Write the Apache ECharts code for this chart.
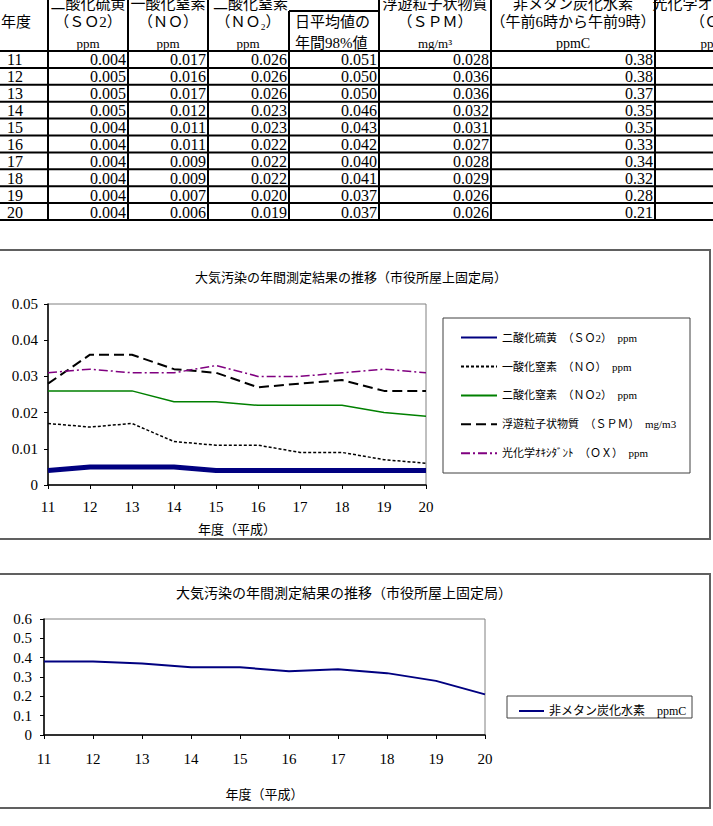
<!DOCTYPE html>
<html><head><meta charset="utf-8">
<script src="https://cdn.jsdelivr.net/npm/echarts@6/dist/echarts.min.js"></script>
<style>html,body{margin:0;padding:0;background:#fff;overflow:hidden}#c{width:713px;height:826px}</style>
</head><body><div id="c"></div>
<script>
// ---- data ----
const years = ['11','12','13','14','15','16','17','18','19','20'];
const so2   = [0.004,0.005,0.005,0.005,0.004,0.004,0.004,0.004,0.004,0.004];
const no    = [0.017,0.016,0.017,0.012,0.011,0.011,0.009,0.009,0.007,0.006];
const no2   = [0.026,0.026,0.026,0.023,0.023,0.022,0.022,0.022,0.020,0.019];
const no2d98= [0.051,0.050,0.050,0.046,0.043,0.042,0.040,0.041,0.037,0.037];
const spm   = [0.028,0.036,0.036,0.032,0.031,0.027,0.028,0.029,0.026,0.026];
const nmhc  = [0.38,0.38,0.37,0.35,0.35,0.33,0.34,0.32,0.28,0.21];
const ox    = [0.031,0.032,0.031,0.031,0.033,0.030,0.030,0.031,0.032,0.031];
const names1 = ['二酸化硫黄　（ＳＯ2）　ppm','一酸化窒素　（ＮＯ）　ppm','二酸化窒素　（ＮＯ2）　ppm','浮遊粒子状物質　（ＳＰＭ）　mg/m3','光化学ｵｷｼﾀﾞﾝﾄ　（ＯＸ）　ppm'];
const name2 = '非メタン炭化水素　ppmC';
const title1 = '大気汚染の年間測定結果の推移（市役所屋上固定局）';
const xName = '年度（平成）';

// ---- drawing ----
const F = "'Liberation Serif','Noto Sans CJK JP',serif";
const chart = echarts.init(document.getElementById('c'), null, {renderer:'svg'});
const g = [];
function txt(x,y,s,align,size){
  g.push({type:'text', x:x, y:y, silent:true, z:10,
    style:{text:s, font:(size||14)+'px '+F, fontSize:size||14, fontFamily:F, fill:'#000',
      align:align||'left', verticalAlign:'middle', textAlign:align||'left', textVerticalAlign:'middle'}});
}
function ln(x1,y1,x2,y2,w,c){
  g.push({type:'line', silent:true, z:9, shape:{x1:x1,y1:y1,x2:x2,y2:y2}, style:{stroke:c||'#000', lineWidth:w||2}});
}
// table
const rowTop = 51, rowH = 16.9;
for (let i=0;i<=years.length;i++) ln(0,rowTop+i*rowH,713,rowTop+i*rowH,2);
ln(289,11,379,11,2);
[48,128,208,379,491,655].forEach(x=>ln(x,0,x,rowTop+years.length*rowH,2));
ln(289,11,289,rowTop+years.length*rowH,2);
// header
txt(1,22,'年度','left',15);
txt(88,4,'二酸化硫黄','center',15); txt(88,22,'（ＳＯ2）','center',15); txt(88,43,'ppm','center',13);
txt(168,4,'一酸化窒素','center',15); txt(168,22,'（ＮＯ）','center',15); txt(168,43,'ppm','center',13);
txt(213,4,'二酸化窒素','left',15); txt(248,22,'（ＮＯ₂）','center',15); txt(248,43,'ppm','center',13);
txt(295,22,'日平均値の','left',15); txt(295,43,'年間98%値','left',15);
txt(435,4,'浮遊粒子状物質','center',15); txt(435,22,'（ＳＰＭ）','center',15); txt(435,43,'mg/m³','center',13);
txt(573,4,'非メタン炭化水素','center',15); txt(573,22,'（午前6時から午前9時）','center',15); txt(573,43,'ppmC','center',14);
txt(720,4,'光化学オキシダント','center',15); txt(720,22,'（ＯＸ）','center',15); txt(712,43,'ppm','center',13);
const cols = [[so2,126,3],[no,206,3],[no2,287,3],[no2d98,377,3],[spm,489,3],[nmhc,653,2]];
years.forEach((y,i)=>{
  const cy = rowTop + i*rowH + rowH/2 + 0.5;
  txt(7,cy,y,'left',16);
  cols.forEach(c=>txt(c[1],cy,c[0][i].toFixed(c[2]),'right',16));
});
// boxes
g.push({type:'rect', silent:true, z:0, shape:{x:-2,y:250,width:712,height:289}, style:{fill:'none', stroke:'#606060', lineWidth:2}});
g.push({type:'rect', silent:true, z:0, shape:{x:-2,y:574,width:712,height:234}, style:{fill:'none', stroke:'#606060', lineWidth:2}});
// legend boxes
g.push({type:'rect', silent:true, z:1, shape:{x:443,y:318,width:247,height:155}, style:{fill:'none', stroke:'#404040', lineWidth:1}});
g.push({type:'rect', silent:true, z:1, shape:{x:507,y:696,width:185,height:22}, style:{fill:'none', stroke:'#404040', lineWidth:1}});
// titles
txt(351,277,title1,'center',13);
txt(344,593,title1,'center',14);

const axisLabel = {fontFamily:F, fontSize:15, color:'#000'};
const legendItem = {opacity:0, borderWidth:0};
chart.setOption({
  animation:false,
  grid:[
    {left:48, top:304, width:378, height:181, show:true, borderColor:'#808080', borderWidth:1},
    {left:44, top:619, width:441, height:116, show:true, borderColor:'#808080', borderWidth:1}
  ],
  xAxis:[
    {gridIndex:0, type:'category', data:years, boundaryGap:false,
     axisLine:{lineStyle:{color:'#000', width:1.5}}, axisTick:{show:true, length:4, lineStyle:{color:'#000'}},
     axisLabel:Object.assign({margin:14}, axisLabel),
     name:xName, nameLocation:'middle', nameGap:38, nameTextStyle:{fontFamily:F, fontSize:13, color:'#000'}},
    {gridIndex:1, type:'category', data:years, boundaryGap:false,
     axisLine:{lineStyle:{color:'#000', width:1.5}}, axisTick:{show:true, length:4, lineStyle:{color:'#000'}},
     axisLabel:Object.assign({margin:16}, axisLabel),
     name:xName, nameLocation:'middle', nameGap:53, nameTextStyle:{fontFamily:F, fontSize:13, color:'#000'}}
  ],
  yAxis:[
    {gridIndex:0, type:'value', min:0, max:0.05, interval:0.01,
     axisLine:{show:true, lineStyle:{color:'#000', width:1.5}}, axisTick:{show:true, length:4, lineStyle:{color:'#000'}},
     splitLine:{show:false}, axisLabel:Object.assign({margin:10}, axisLabel)},
    {gridIndex:1, type:'value', min:0, max:0.6, interval:0.1,
     axisLine:{show:true, lineStyle:{color:'#000', width:1.5}}, axisTick:{show:true, length:4, lineStyle:{color:'#000'}},
     splitLine:{show:false}, axisLabel:Object.assign({margin:12}, axisLabel)}
  ],
  legend:[
    {data:names1, orient:'vertical', left:455, top:327, itemWidth:36, itemHeight:14, itemGap:17.7,
     selectedMode:false, itemStyle:legendItem, textStyle:{fontFamily:F, fontSize:11, color:'#000'}},
    {data:[name2], orient:'vertical', left:513, top:700, itemWidth:25, itemHeight:14,
     selectedMode:false, itemStyle:legendItem, textStyle:{fontFamily:F, fontSize:12, color:'#000'}}
  ],
  series:[
    {name:names1[0], type:'line', data:so2, xAxisIndex:0, yAxisIndex:0, symbol:'none', color:'#000080', lineStyle:{color:'#000080', width:5}},
    {name:names1[1], type:'line', data:no, xAxisIndex:0, yAxisIndex:0, symbol:'none', color:'#000', lineStyle:{color:'#000', width:1.5, type:[3,2]}},
    {name:names1[2], type:'line', data:no2, xAxisIndex:0, yAxisIndex:0, symbol:'none', color:'#008000', lineStyle:{color:'#008000', width:1.5}},
    {name:names1[3], type:'line', data:spm, xAxisIndex:0, yAxisIndex:0, symbol:'none', color:'#000', lineStyle:{color:'#000', width:2, type:[10,5]}},
    {name:names1[4], type:'line', data:ox, xAxisIndex:0, yAxisIndex:0, symbol:'none', color:'#800080', lineStyle:{color:'#800080', width:1.5, type:[9,3,2,3]}},
    {name:name2, type:'line', data:nmhc, xAxisIndex:1, yAxisIndex:1, symbol:'none', color:'#000080', lineStyle:{color:'#000080', width:2}}
  ],
  graphic:g
});
</script></body></html>
